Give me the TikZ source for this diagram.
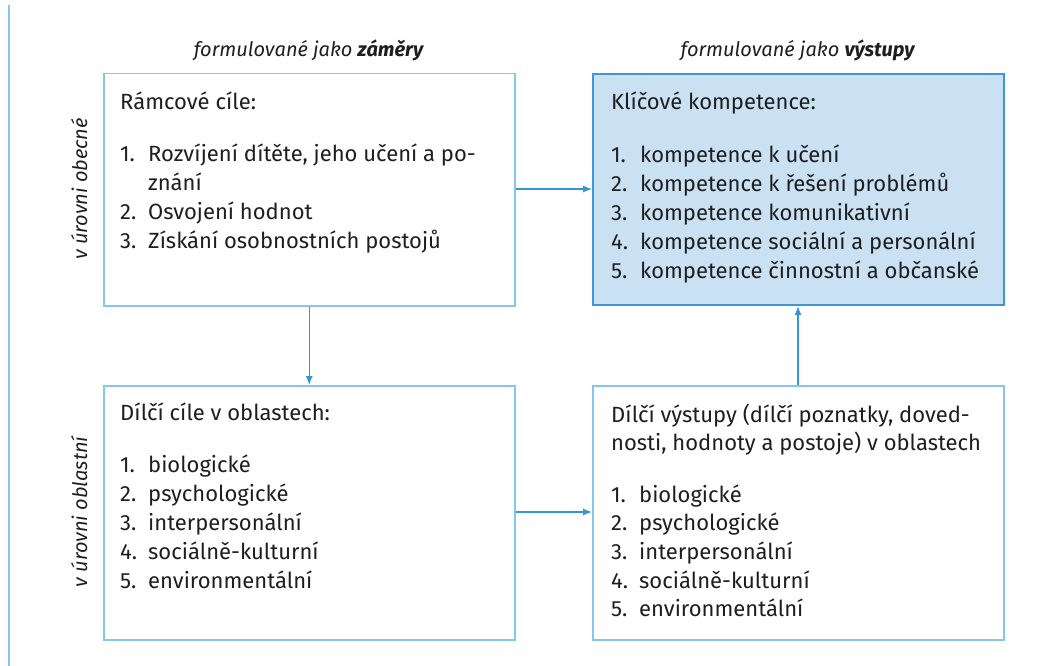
\documentclass[tikz,border=0pt]{standalone}
\usepackage{fontspec}
\setmainfont{Fira Sans}
\usetikzlibrary{arrows.meta}
\definecolor{frameblue}{RGB}{135,197,236}
\definecolor{darkframe}{RGB}{62,152,214}
\definecolor{fillblue}{RGB}{201,225,243}
\definecolor{arrowblue}{RGB}{52,150,215}
\definecolor{txtgray}{RGB}{30,30,30}
\tikzset{
  box/.style={draw=frameblue, line width=1.5pt, fill=white},
  keybox/.style={draw=darkframe, line width=2pt, fill=fillblue},
  txt/.style={inner sep=0pt, anchor=base west, font=\fontsize{22}{24}\selectfont, text=txtgray},
  head/.style={inner sep=0pt, anchor=base, font=\fontsize{20}{23}\selectfont\itshape, text=txtgray},
  side/.style={inner sep=0pt, anchor=base, rotate=90, font=\fontsize{20}{23}\selectfont\itshape, text=txtgray},
  conn/.style={draw=arrowblue, line width=1.2pt, -{Latex[length=9pt,width=7pt]}},
}
\newcommand{\txtline}[4]{\node[txt] (#1) at (#2,#3) {#4};}
\begin{document}
\begin{tikzpicture}[x=1pt,y=-1pt]
\useasboundingbox (0,0) rectangle (1054,666);
\draw[frameblue, line width=1.5pt] (9,5) -- (9,666);
% boxes
\node[box, minimum width=411pt, minimum height=232pt, inner sep=0pt, anchor=north west] (A) at (103,73) {};
\node[keybox, minimum width=411pt, minimum height=231pt, inner sep=0pt, anchor=north west] (B) at (592,73) {};
\node[box, minimum width=411pt, minimum height=254pt, inner sep=0pt, anchor=north west] (C) at (103,385) {};
\node[box, minimum width=411pt, minimum height=254pt, inner sep=0pt, anchor=north west] (D) at (592,385) {};
% headers
\node[head] (hA) at (308.5,57) {formulované jako \textbf{záměry}};
\node[head] (hB) at (797.5,57) {formulované jako \textbf{výstupy}};
\node[side] (sA) at (87,189) {v úrovni obecné};
\node[side] (sC) at (87,512) {v úrovni oblastní};
% box A
\txtline{a0}{120}{110}{Rámcové cíle:}
\txtline{a1n}{120}{161}{1.}\txtline{a1}{148}{161}{Rozvíjení dítěte, jeho učení a po-}
\txtline{a1b}{148}{190}{znání}
\txtline{a2n}{120}{219}{2.}\txtline{a2}{148}{219}{Osvojení hodnot}
\txtline{a3n}{120}{248}{3.}\txtline{a3}{148}{248}{Získání osobnostních postojů}
% box B
\txtline{b0}{611}{110}{Klíčové kompetence:}
\txtline{b1n}{611}{162}{1.}\txtline{b1}{640}{162}{kompetence k učení}
\txtline{b2n}{611}{191}{2.}\txtline{b2}{640}{191}{kompetence k řešení problémů}
\txtline{b3n}{611}{220}{3.}\txtline{b3}{640}{220}{kompetence komunikativní}
\txtline{b4n}{611}{249}{4.}\txtline{b4}{640}{249}{kompetence sociální a personální}
\txtline{b5n}{611}{278}{5.}\txtline{b5}{640}{278}{kompetence činnostní a občanské}
% box C
\txtline{c0}{120}{420}{Dílčí cíle v oblastech:}
\txtline{c1n}{120}{472}{1.}\txtline{c1}{148}{472}{biologické}
\txtline{c2n}{120}{501}{2.}\txtline{c2}{148}{501}{psychologické}
\txtline{c3n}{120}{530}{3.}\txtline{c3}{148}{530}{interpersonální}
\txtline{c4n}{120}{559}{4.}\txtline{c4}{148}{559}{sociálně-kulturní}
\txtline{c5n}{120}{588}{5.}\txtline{c5}{148}{588}{environmentální}
% box D
\txtline{d0}{611}{422}{Dílčí výstupy (dílčí poznatky, doved-}
\txtline{d0b}{611}{450}{nosti, hodnoty a postoje) v oblastech}
\txtline{d1n}{611}{502}{1.}\txtline{d1}{639}{502}{biologické}
\txtline{d2n}{611}{530}{2.}\txtline{d2}{639}{530}{psychologické}
\txtline{d3n}{611}{559}{3.}\txtline{d3}{639}{559}{interpersonální}
\txtline{d4n}{611}{588}{4.}\txtline{d4}{639}{588}{sociálně-kulturní}
\txtline{d5n}{611}{616}{5.}\txtline{d5}{639}{616}{environmentální}
% connectors
\draw[conn] (A.south) -- (C.north);
\draw[conn] (A.east |- 0,189) -- (B.west |- 0,189);
\draw[conn] (C.east |- 0,512) -- (D.west |- 0,512);
\draw[conn] (D.north -| 798,0) -- (B.south -| 798,0);
\end{tikzpicture}
\end{document}
